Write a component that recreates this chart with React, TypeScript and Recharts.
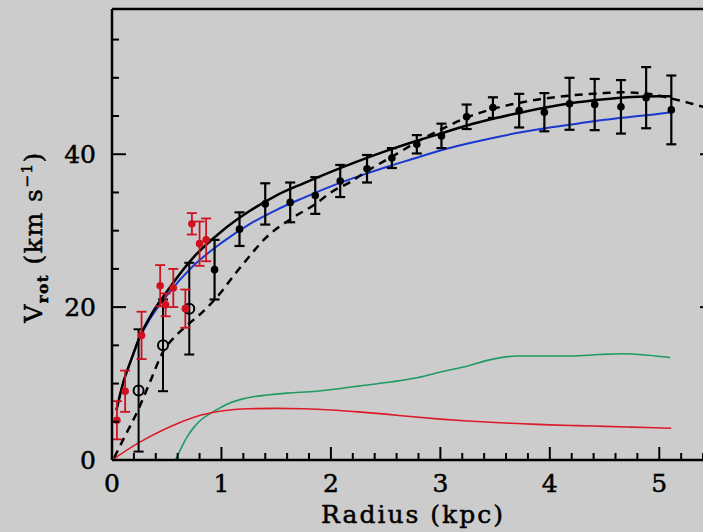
import React from 'react';
import { ComposedChart, Line, Scatter, XAxis, YAxis, ErrorBar } from 'recharts';

// ---------- data ----------
// Observed rotation (black): open circles (inner) and filled circles
const openR = [0.243, 0.466, 0.706];
const openV = [9.1, 15.0, 19.8];
const openErr = [8.0, 6.0, 6.0];

const obsR = [0.937, 1.165, 1.4, 1.628, 1.857, 2.085, 2.33, 2.557, 2.785, 3.01, 3.24, 3.48, 3.72, 3.95, 4.18, 4.41, 4.65, 4.88, 5.11];
const obsV = [24.9, 30.2, 33.5, 33.7, 34.6, 36.5, 38.1, 39.5, 41.3, 42.4, 44.9, 46.1, 45.7, 45.5, 46.6, 46.5, 46.2, 47.4, 45.8];
const obsErr = [3.9, 2.2, 2.7, 2.6, 2.4, 2.1, 1.8, 1.3, 1.2, 1.6, 1.6, 1.35, 2.2, 2.5, 3.4, 3.35, 3.5, 4.0, 4.5];

// Red points (second data set)
const redR = [0.045, 0.12, 0.27, 0.44, 0.49, 0.56, 0.67, 0.73, 0.8, 0.86];
const redV = [5.2, 9.0, 16.3, 22.8, 20.3, 22.5, 19.8, 30.9, 28.3, 28.8];
const redErr = [2.5, 2.7, 3.1, 2.7, 1.5, 2.5, 2.5, 1.4, 2.9, 2.8];

// Model curves
const fitR = [0.04, 0.1, 0.18, 0.25, 0.35, 0.5, 0.75, 1.0, 1.25, 1.5, 1.75, 2.0, 2.25, 2.5, 2.75, 3.0, 3.25, 3.5, 3.75, 4.0, 4.25, 4.5, 4.75, 5.0, 5.11];
const totalFitV = [6.5, 10.0, 13.3, 16.0, 18.8, 22.0, 26.6, 29.9, 32.5, 34.6, 36.2, 37.7, 39.1, 40.4, 41.6, 42.7, 43.8, 44.7, 45.5, 46.2, 46.8, 47.2, 47.5, 47.6, 47.6];
const blueFitV = [6.5, 10.0, 13.3, 15.9, 18.5, 21.5, 25.5, 28.4, 30.8, 32.7, 34.3, 35.8, 37.1, 38.3, 39.4, 40.5, 41.4, 42.2, 42.9, 43.5, 44.0, 44.5, 44.9, 45.3, 45.5];

const dashR = [0.02, 0.1, 0.24, 0.35, 0.46, 0.6, 0.7, 0.8, 0.9, 1.0, 1.1, 1.23, 1.4, 1.63, 1.86, 2.0, 2.18, 2.33, 2.56, 2.785, 3.0, 3.24, 3.5, 3.75, 3.91, 4.2, 4.5, 4.65, 4.9, 5.11, 5.3, 5.5];
const dashV = [0.3, 2.6, 6.6, 10.3, 14.0, 16.5, 17.8, 19.0, 20.4, 22.0, 23.9, 26.2, 29.0, 31.5, 33.5, 35.0, 36.4, 37.8, 39.7, 41.6, 43.2, 44.8, 46.0, 46.8, 47.2, 47.7, 48.0, 48.1, 47.9, 47.3, 46.6, 45.8];

const redCurveR = [0.0, 0.25, 0.5, 0.75, 1.0, 1.25, 1.5, 1.75, 2.0, 2.25, 2.5, 2.75, 3.0, 3.25, 3.5, 3.75, 4.0, 4.25, 4.5, 4.75, 5.11];
const redCurveV = [0.0, 2.3, 4.15, 5.6, 6.4, 6.7, 6.75, 6.7, 6.55, 6.3, 6.0, 5.65, 5.35, 5.1, 4.9, 4.75, 4.6, 4.5, 4.4, 4.3, 4.15];

const greenR = [0.58, 0.62, 0.685, 0.75, 0.81, 0.9, 0.96, 1.05, 1.17, 1.3, 1.415, 1.6, 1.87, 2.085, 2.27, 2.54, 2.8, 3.0, 3.25, 3.45, 3.7, 4.2, 4.45, 4.67, 4.9, 5.1];
const greenV = [0.0, 1.2, 3.0, 4.3, 5.2, 6.1, 6.6, 7.3, 7.9, 8.3, 8.5, 8.75, 9.0, 9.35, 9.7, 10.2, 10.8, 11.5, 12.3, 13.1, 13.6, 13.6, 13.8, 13.9, 13.7, 13.4];

const xTicks = [0, 0.2, 0.4, 0.6, 0.8, 1, 1.2, 1.4, 1.6, 1.8, 2, 2.2, 2.4, 2.6, 2.8, 3, 3.2, 3.4, 3.6, 3.8, 4, 4.2, 4.4, 4.6, 4.8, 5, 5.2, 5.4];
const yTicks = [0, 5, 10, 15, 20, 25, 30, 35, 40, 45, 50, 55];
const xLabelText = 'Radius (kpc)';

// ---------- helpers ----------
const toPts = (xs: number[], ys: number[]) => xs.map((r, i) => ({ r, v: ys[i] }));
const toErrPts = (xs: number[], ys: number[], es: number[]) => xs.map((r, i) => ({ r, v: ys[i], err: es[i] }));

const FONT = '"DejaVu Serif", serif';
const BG = '#cccccc';

const isMajorX = (v: number) => Math.abs(v - Math.round(v)) < 1e-6;
const isMajorY = (v: number) => Math.abs(v % 20) < 1e-6;

const BottomTick = (p: any) => {
  const { x, y, payload } = p;
  const major = isMajorX(payload.value);
  return (
    <g>
      <line x1={x} y1={y} x2={x} y2={y - (major ? 13 : 7)} stroke="#000" strokeWidth={2} />
      {major && (
        <text x={x} y={y + 32} textAnchor="middle" fontFamily={FONT} fontSize={25} fill="#000" stroke="#000" strokeWidth={0.5}>
          {Math.round(payload.value)}
        </text>
      )}
    </g>
  );
};
const TopTick = (p: any) => {
  const { x, y, payload } = p;
  const major = isMajorX(payload.value);
  return <line x1={x} y1={y} x2={x} y2={y + (major ? 13 : 7)} stroke="#000" strokeWidth={2} />;
};
const LeftTick = (p: any) => {
  const { x, y, payload } = p;
  const major = isMajorY(payload.value);
  return (
    <g>
      <line x1={x} y1={y} x2={x + (major ? 14 : 7)} y2={y} stroke="#000" strokeWidth={2} />
      {major && (
        <text x={x - 16} y={y + 9} textAnchor="end" fontFamily={FONT} fontSize={25} fill="#000" stroke="#000" strokeWidth={0.5}>
          {payload.value}
        </text>
      )}
    </g>
  );
};
const RightTick = (p: any) => {
  const { x, y, payload } = p;
  const major = isMajorY(payload.value);
  return <line x1={x} y1={y} x2={x - (major ? 14 : 7)} y2={y} stroke="#000" strokeWidth={2} />;
};

const YLabel = () => (
  <text transform="rotate(-90, 42, 237)" x={42} y={237} textAnchor="middle" fontFamily={FONT} fontSize={25} fill="#000" stroke="#000" strokeWidth={0.5} letterSpacing={1.5}>
    <tspan>V</tspan>
    <tspan fontSize={15} dy={6} fontWeight="bold">rot</tspan>
    <tspan dy={-6}>{'  (km  s'}</tspan>
    <tspan fontSize={15} dy={-10}>−1</tspan>
    <tspan dy={10}>)</tspan>
  </text>
);
const XLabel = () => (
  <text x={413} y={523} textAnchor="middle" fontFamily={FONT} fontSize={25} fill="#000" stroke="#000" strokeWidth={0.5} letterSpacing={2}>
    {xLabelText}
  </text>
);

const FilledDot = (p: any) => <circle cx={p.cx} cy={p.cy} r={3.8} fill={p.fill} />;
const OpenDot = (p: any) => <circle cx={p.cx} cy={p.cy} r={5} fill="none" stroke="#000" strokeWidth={2} />;

export default function App() {
  return (
    <div style={{ position: 'fixed', left: 0, top: 0, width: 703, height: 532, background: BG, overflow: 'hidden' }}>
      <div style={{ position: 'absolute', left: 0, top: 0 }}>
        <ComposedChart width={721} height={532} margin={{ top: 8, right: 6, bottom: 0, left: 0 }}>
          <XAxis
            xAxisId={0}
            dataKey="r"
            type="number"
            domain={[0, 5.5]}
            allowDataOverflow
            ticks={xTicks}
            interval={0}
            tickSize={0}
            tickMargin={0}
            tickLine={false}
            tick={<BottomTick />}
            height={72}
            axisLine={{ stroke: '#000', strokeWidth: 2.5 }}
            label={<XLabel />}
          />
          <XAxis
            xAxisId="top"
            orientation="top"
            type="number"
            domain={[0, 5.5]}
            allowDataOverflow
            ticks={xTicks}
            interval={0}
            tickSize={0}
            tickMargin={0}
            tickLine={false}
            tick={<TopTick />}
            height={1}
            axisLine={{ stroke: '#000', strokeWidth: 2.5 }}
          />
          <YAxis
            yAxisId={0}
            dataKey="v"
            type="number"
            domain={[0, 59]}
            allowDataOverflow
            ticks={yTicks}
            interval={0}
            tickSize={0}
            tickMargin={0}
            tickLine={false}
            tick={<LeftTick />}
            width={112}
            axisLine={{ stroke: '#000', strokeWidth: 2.5 }}
            label={<YLabel />}
          />
          <YAxis
            yAxisId="right"
            orientation="right"
            type="number"
            domain={[0, 59]}
            allowDataOverflow
            ticks={yTicks}
            interval={0}
            tickSize={0}
            tickMargin={0}
            tickLine={false}
            tick={<RightTick />}
            width={1}
            axisLine={{ stroke: '#000', strokeWidth: 2.5 }}
          />

          <Line data={toPts(greenR, greenV)} dataKey="v" type="monotone" stroke="#1f9a62" strokeWidth={1.6} dot={false} isAnimationActive={false} />
          <Line data={toPts(redCurveR, redCurveV)} dataKey="v" type="monotone" stroke="#dd1a2a" strokeWidth={1.6} dot={false} isAnimationActive={false} />
          <Line data={toPts(fitR, blueFitV)} dataKey="v" type="monotone" stroke="#1838d0" strokeWidth={2} dot={false} isAnimationActive={false} />
          <Line data={toPts(dashR, dashV)} dataKey="v" type="monotone" stroke="#000" strokeWidth={2.5} strokeDasharray="8 6" dot={false} isAnimationActive={false} />
          <Line data={toPts(fitR, totalFitV)} dataKey="v" type="monotone" stroke="#000" strokeWidth={2.5} dot={false} isAnimationActive={false} />

          <Scatter data={toErrPts(openR, openV, openErr)} dataKey="v" fill="#000" shape={<OpenDot />} isAnimationActive={false}>
            <ErrorBar dataKey="err" direction="y" width={5} stroke="#000" strokeWidth={2} />
          </Scatter>
          <Scatter data={toErrPts(obsR, obsV, obsErr)} dataKey="v" fill="#000" shape={<FilledDot />} isAnimationActive={false}>
            <ErrorBar dataKey="err" direction="y" width={5} stroke="#000" strokeWidth={2.2} />
          </Scatter>
          <Scatter data={toErrPts(redR, redV, redErr)} dataKey="v" fill="#d01020" shape={<FilledDot />} isAnimationActive={false}>
            <ErrorBar dataKey="err" direction="y" width={5} stroke="#d01020" strokeWidth={1.8} />
          </Scatter>
        </ComposedChart>
      </div>
    </div>
  );
}
